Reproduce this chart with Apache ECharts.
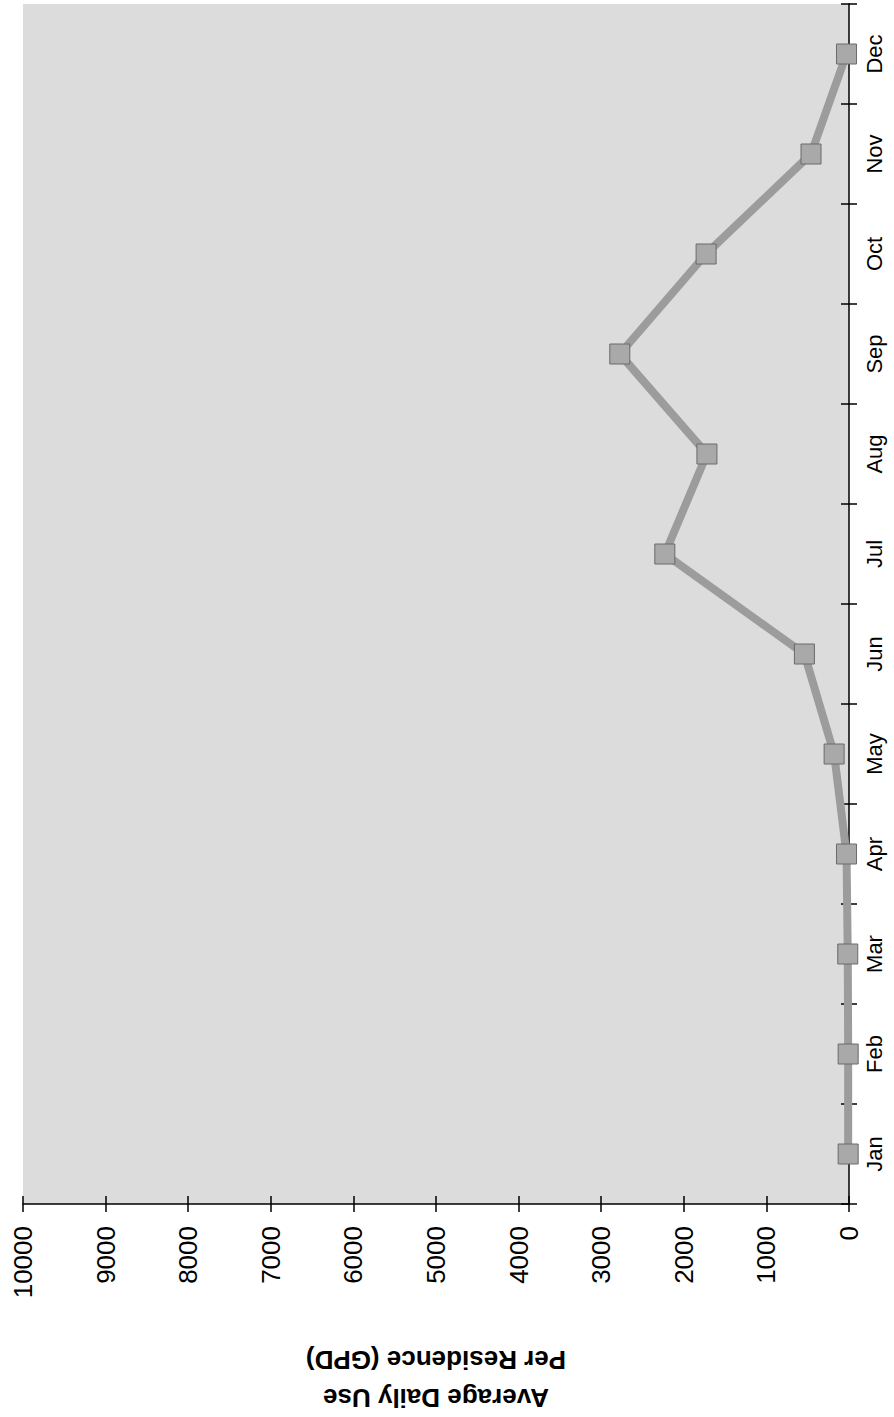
<!DOCTYPE html>
<html>
<head>
<meta charset="utf-8">
<script src="https://cdn.jsdelivr.net/npm/echarts@6/dist/echarts.min.js"></script>
<style>
  html, body { margin: 0; padding: 0; background: #ffffff; }
  #chart { width: 894px; height: 1417px; }
</style>
</head>
<body>
<div id="chart"></div>
<script>
// Monthly average daily water use per residence (gallons per day)
const months = ['Jan', 'Feb', 'Mar', 'Apr', 'May', 'Jun', 'Jul', 'Aug', 'Sep', 'Oct', 'Nov', 'Dec'];
const gpd = [10, 10, 15, 30, 180, 540, 2230, 1720, 2775, 1730, 460, 30];

// Value axis range and step
const valueMin = 0;
const valueMax = 10000;
const valueStep = 1000;

// Axis title, two lines
const axisTitle = ['Average Daily Use', 'Per Residence (GPD)'];

const FONT = '"Liberation Sans", Arial, Helvetica, sans-serif';

const chart = echarts.init(document.getElementById('chart'), null, { renderer: 'svg' });

const valueAxisBase = {
  type: 'value',
  min: valueMin,
  max: valueMax,
  interval: valueStep,
  inverse: true,
  position: 'bottom',
  splitLine: { show: false }
};

const monthAxisBase = {
  type: 'category',
  data: months,
  position: 'right',
  boundaryGap: true,
  splitLine: { show: false }
};

chart.setOption({
  animation: false,
  backgroundColor: '#ffffff',
  grid: {
    left: 23,
    right: 45,
    top: 4,
    bottom: 213,
    show: true,
    backgroundColor: '#dcdcdc',
    borderWidth: 0
  },
  xAxis: [
    Object.assign({}, valueAxisBase, {
      axisLine: { show: true, lineStyle: { color: '#000', width: 1.5 } },
      axisTick: { show: true, inside: false, length: 8, lineStyle: { color: '#000', width: 1.5 } },
      axisLabel: {
        rotate: 90,
        margin: 22,
        color: '#000',
        fontFamily: FONT,
        fontSize: 26,
        formatter: (v) => String(v)
      }
    }),
    // inner half of the crossing tick marks
    Object.assign({}, valueAxisBase, {
      axisLine: { show: false },
      axisTick: { show: true, inside: true, length: 8, lineStyle: { color: '#000', width: 1.5 } },
      axisLabel: { show: false }
    })
  ],
  yAxis: [
    Object.assign({}, monthAxisBase, {
      axisLine: { show: true, lineStyle: { color: '#000', width: 1.5 } },
      axisTick: { show: true, inside: false, length: 8, interval: 0, lineStyle: { color: '#000', width: 1.5 } },
      axisLabel: {
        interval: 0,
        rotate: 90,
        margin: 14,
        color: '#000',
        fontFamily: FONT,
        fontSize: 22
      }
    }),
    Object.assign({}, monthAxisBase, {
      axisLine: { show: false },
      axisTick: { show: true, inside: true, length: 8, interval: 0, lineStyle: { color: '#000', width: 1.5 } },
      axisLabel: { show: false }
    })
  ],
  graphic: [
    {
      type: 'text',
      x: 436,
      y: 1379,
      rotation: Math.PI,
      style: {
        text: axisTitle.join('\n'),
        x: 0,
        y: 0,
        align: 'center',
        verticalAlign: 'middle',
        lineHeight: 38,
        fill: '#000',
        font: 'bold 26px ' + FONT
      }
    }
  ],
  series: [
    {
      type: 'line',
      xAxisIndex: 0,
      yAxisIndex: 0,
      data: gpd.map((v, i) => [v, months[i]]),
      lineStyle: { color: '#9c9c9c', width: 8 },
      symbol: 'rect',
      symbolSize: 20,
      itemStyle: { color: '#a9a9a9', borderColor: '#6a6a6a', borderWidth: 1 },
      z: 3
    }
  ]
});
</script>
</body>
</html>
